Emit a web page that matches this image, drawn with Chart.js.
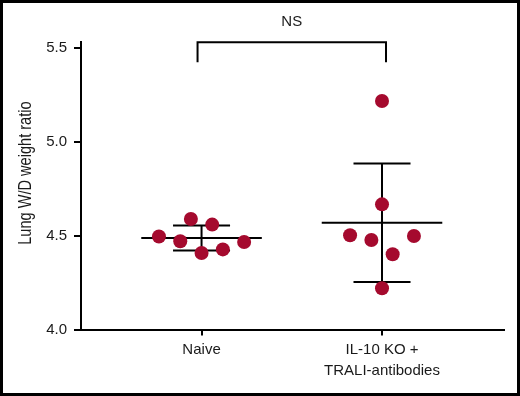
<!DOCTYPE html>
<html>
<head>
<meta charset="utf-8">
<script src="https://cdn.jsdelivr.net/npm/chart.js@4.4.1/dist/chart.umd.min.js"></script>
<style>
  html, body { margin: 0; padding: 0; background: #fff; }
  .frame { width: 520px; height: 396px; box-sizing: border-box; border: 3px solid #000; background: #fff; }
  canvas { display: block; }
</style>
</head>
<body>
<div class="frame"><canvas id="chart" width="514" height="390"></canvas></div>
<script>
const CATEGORIES = ['Naive', ['IL-10 KO +', 'TRALI-antibodies']]
const NAIVE = [4.589, 4.559, 4.496, 4.470, 4.408, 4.427, 4.466]
const IL10_TRALI = [5.218, 4.667, 4.502, 4.477, 4.498, 4.401, 4.220]
// swarm column of each dot, as laid out in the figure
const NAIVE_SLOTS = [-0.5, 0.5, -2, -1, 0, 1, 2]
const IL10_SLOTS = [0, 0, -1.5, -0.5, 1.5, 0.5, 0]
const Y_TICKS = [4.0, 4.5, 5.0, 5.5]
const Y_TITLE = 'Lung W/D weight ratio'
const SIGNIFICANCE = 'NS'

const RED = '#A50A2E'
const INK = '#1a1a1a'
const FONT = '"Liberation Sans", Arial, sans-serif'
const SLOT_WIDTH = 0.118
const MEAN_HALF = 0.334
const CAP_HALF = 0.158

const groups = [
    { values: NAIVE, slots: NAIVE_SLOTS },
    { values: IL10_TRALI, slots: IL10_SLOTS }
]

function mean(arr) {
    return arr.reduce((a, b) => a + b, 0) / arr.length
}
function sd(arr) {
    const m = mean(arr)
    return Math.sqrt(arr.reduce((a, b) => a + (b - m) * (b - m), 0) / (arr.length - 1))
}

// mean +/- SD lines, drawn under the dots
const errorBars = {
    id: 'errorBars',
    beforeDatasetsDraw(chart) {
        const { ctx, scales: { x, y } } = chart
        ctx.save()
        ctx.strokeStyle = '#000'
        ctx.lineWidth = 2
        groups.forEach((g, i) => {
            const c = i + 1
            const m = mean(g.values)
            const s = sd(g.values)
            const line = (x1, y1, x2, y2) => {
                ctx.beginPath()
                ctx.moveTo(x.getPixelForValue(x1), y.getPixelForValue(y1))
                ctx.lineTo(x.getPixelForValue(x2), y.getPixelForValue(y2))
                ctx.stroke()
            }
            line(c - MEAN_HALF, m, c + MEAN_HALF, m)
            line(c - CAP_HALF, m + s, c + CAP_HALF, m + s)
            line(c - CAP_HALF, m - s, c + CAP_HALF, m - s)
            line(c, m - s, c, m + s)
        })
        ctx.restore()
    }
}

// significance bracket + rotated (condensed) y title
const extras = {
    id: 'extras',
    afterDraw(chart) {
        const { ctx, chartArea, scales: { x } } = chart
        ctx.save()
        const x1 = x.getPixelForValue(1) - 4
        const x2 = x.getPixelForValue(2) + 4
        const top = chartArea.top + 0.5
        ctx.strokeStyle = '#000'
        ctx.lineWidth = 2
        ctx.beginPath()
        ctx.moveTo(x1, top + 20)
        ctx.lineTo(x1, top)
        ctx.lineTo(x2, top)
        ctx.lineTo(x2, top + 20)
        ctx.stroke()

        ctx.fillStyle = INK
        ctx.font = '15px ' + FONT
        ctx.textAlign = 'center'
        ctx.textBaseline = 'middle'
        ctx.fillText(SIGNIFICANCE, (x1 + x2) / 2, chartArea.top - 20)

        ctx.translate(23, (chartArea.top + chartArea.bottom) / 2 - 12.5)
        ctx.rotate(-Math.PI / 2)
        ctx.scale(0.81, 1)
        ctx.font = '18px ' + FONT
        ctx.fillText(Y_TITLE, 0, 0)
        ctx.restore()
    }
}

const chart = new Chart(document.getElementById('chart'), {
    type: 'scatter',
    data: {
        datasets: groups.map((g, i) => ({
            data: g.values.map((v, j) => ({ x: i + 1 + g.slots[j] * SLOT_WIDTH, y: v })),
            backgroundColor: RED,
            borderWidth: 0,
            pointRadius: 7,
            pointHoverRadius: 7
        }))
    },
    options: {
        responsive: false,
        animation: false,
        layout: { padding: { top: 38.7, right: 13, left: 0, bottom: 0 } },
        plugins: {
            legend: { display: false },
            tooltip: { enabled: false }
        },
        scales: {
            x: {
                type: 'linear',
                min: 0.332,
                max: 2.676,
                afterBuildTicks: (s) => { s.ticks = CATEGORIES.map((c, i) => ({ value: i + 1 })) },
                afterFit: (s) => { s.height = 63.5 },
                ticks: {
                    callback: (v) => CATEGORIES[Math.round(v) - 1],
                    font: { family: FONT, size: 15, lineHeight: 1.4 },
                    color: INK,
                    padding: 4,
                    maxRotation: 0,
                    autoSkip: false
                },
                grid: { drawOnChartArea: false, drawTicks: true, tickLength: 6, color: '#000', lineWidth: 2 },
                border: { color: '#000', width: 2 }
            },
            y: {
                min: 4.0,
                max: 5.534,
                afterBuildTicks: (s) => { s.ticks = Y_TICKS.map((v) => ({ value: v })) },
                afterFit: (s) => { s.width = 78 },
                ticks: {
                    callback: (v) => v.toFixed(1),
                    font: { family: FONT, size: 15 },
                    color: INK,
                    padding: 7
                },
                grid: { drawOnChartArea: false, drawTicks: true, tickLength: 7, color: '#000', lineWidth: 2 },
                border: { color: '#000', width: 2 }
            }
        }
    },
    plugins: [errorBars, extras]
})
</script>
</body>
</html>
